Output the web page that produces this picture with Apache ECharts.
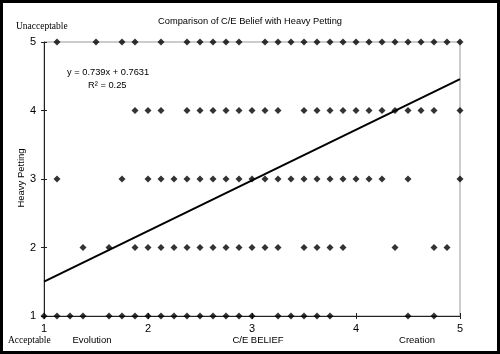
<!DOCTYPE html>
<html>
<head>
<meta charset="utf-8">
<script src="https://cdn.jsdelivr.net/npm/echarts@6/dist/echarts.min.js"></script>
<style>
html,body{margin:0;padding:0;background:#fff;}
#c{width:500px;height:354px;}
</style>
</head>
<body>
<div id="c"></div>
<script>
// C/E belief (x) values for each Heavy Petting rating (y)
const rating5X = [1.125, 1.5, 1.75, 1.875, 2.125, 2.375, 2.5, 2.625, 2.75, 2.875, 3.125, 3.25, 3.375, 3.5, 3.625, 3.75, 3.875, 4, 4.125, 4.25, 4.375, 4.5, 4.625, 4.75, 4.875, 5];
const rating4X = [1.875, 2, 2.125, 2.375, 2.5, 2.625, 2.75, 2.875, 3, 3.125, 3.25, 3.5, 3.625, 3.75, 3.875, 4, 4.125, 4.25, 4.375, 4.5, 4.625, 4.75, 5];
const rating3X = [1.125, 1.75, 2, 2.125, 2.25, 2.375, 2.5, 2.625, 2.75, 2.875, 3, 3.125, 3.25, 3.375, 3.5, 3.625, 3.75, 3.875, 4, 4.125, 4.25, 4.5, 5];
const rating2X = [1.375, 1.625, 1.875, 2, 2.125, 2.25, 2.375, 2.5, 2.625, 2.75, 2.875, 3, 3.125, 3.25, 3.5, 3.625, 3.75, 3.875, 4.375, 4.75, 4.875];
const rating1X = [1, 1.125, 1.25, 1.375, 1.625, 1.75, 1.875, 2, 2.125, 2.25, 2.375, 2.5, 2.625, 2.75, 2.875, 3, 3.25, 3.375, 3.5, 3.625, 3.75, 4.5, 4.75];
const ratingLevels = [5, 4, 3, 2, 1];
const trendSlope = 0.739;
const trendIntercept = 0.7631;
const trendX = [1, 5];
const xTicks = [1, 2, 3, 4, 5];
const yTicks = [1, 2, 3, 4, 5];
const titleText = 'Comparison of C/E Belief with Heavy Petting';
const equationText = 'y = 0.739x + 0.7631';
const r2Text = 'R² = 0.25';

const rows = [rating5X, rating4X, rating3X, rating2X, rating1X];
const points = [];
rows.forEach((xs, i) => xs.forEach(x => points.push([x, ratingLevels[i]])));
const trend = trendX.map(x => [x, trendSlope * x + trendIntercept]);

const chart = echarts.init(document.getElementById('c'), null, {renderer: 'canvas'});
const sans = 'Liberation Sans, Arial, sans-serif';
const serif = 'Liberation Serif, Times New Roman, serif';
const axisCommon = {
  min: 1, max: 5, interval: 1,
  splitLine: {show: false}
};
chart.setOption({
  animation: false,
  backgroundColor: '#fff',
  grid: {left: 44, right: 40, top: 42, bottom: 38, show: true, borderColor: '#999', borderWidth: 1},
  xAxis: [
    Object.assign({type: 'value', position: 'bottom',
      axisLine: {show: true, onZero: false, lineStyle: {color: '#222', width: 1}},
      axisTick: {show: true, length: 3, lineStyle: {color: '#222'}},
      axisLabel: {color: '#000', fontFamily: sans, fontSize: 11, margin: 7,
        formatter: v => xTicks.includes(v) ? String(v) : ''}}, axisCommon),
    Object.assign({type: 'value', position: 'bottom',
      axisLine: {show: false}, axisTick: {show: true, inside: true, length: 3, lineStyle: {color: '#222'}},
      axisLabel: {show: false}}, axisCommon)
  ],
  yAxis: [
    Object.assign({type: 'value', position: 'left',
      axisLine: {show: true, onZero: false, lineStyle: {color: '#222', width: 1}},
      axisTick: {show: true, length: 3, lineStyle: {color: '#222'}},
      axisLabel: {color: '#000', fontFamily: sans, fontSize: 11, margin: 8,
        formatter: v => yTicks.includes(v) ? String(v) : ''}}, axisCommon),
    Object.assign({type: 'value', position: 'left',
      axisLine: {show: false}, axisTick: {show: true, inside: true, length: 3, lineStyle: {color: '#222'}},
      axisLabel: {show: false}}, axisCommon)
  ],
  series: [
    {type: 'scatter', data: points, symbol: 'diamond', symbolSize: 7,
      itemStyle: {color: '#000'}, z: 3},
    {type: 'line', data: trend, showSymbol: false, symbol: 'none',
      lineStyle: {color: '#000', width: 2}, z: 4}
  ],
  graphic: [
    {type: 'rect', shape: {x: 1.5, y: 1.5, width: 497, height: 351},
      style: {fill: 'none', stroke: '#000', lineWidth: 3}, z: 10},
    {type: 'text', x: 250, y: 21, style: {text: titleText, font: '9.3px ' + sans, fill: '#000', textAlign: 'center', textVerticalAlign: 'middle'}},
    {type: 'text', x: 16, y: 26, style: {text: 'Unacceptable', font: '9.5px ' + serif, fill: '#000', textAlign: 'left', textVerticalAlign: 'middle'}},
    {type: 'text', x: 8, y: 340, style: {text: 'Acceptable', font: '9.5px ' + serif, fill: '#000', textAlign: 'left', textVerticalAlign: 'middle'}},
    {type: 'text', x: 92, y: 340, style: {text: 'Evolution', font: '9.5px ' + sans, fill: '#000', textAlign: 'center', textVerticalAlign: 'middle'}},
    {type: 'text', x: 258, y: 340, style: {text: 'C/E BELIEF', font: '9.5px ' + sans, fill: '#000', textAlign: 'center', textVerticalAlign: 'middle'}},
    {type: 'text', x: 417, y: 340, style: {text: 'Creation', font: '9.5px ' + sans, fill: '#000', textAlign: 'center', textVerticalAlign: 'middle'}},
    {type: 'text', x: 21, y: 178, rotation: Math.PI / 2, style: {text: 'Heavy Petting', font: '9.5px ' + sans, fill: '#000', textAlign: 'center', textVerticalAlign: 'middle'}},
    {type: 'text', x: 67, y: 72, style: {text: equationText, font: '9.3px ' + sans, fill: '#000', textAlign: 'left', textVerticalAlign: 'middle'}},
    {type: 'text', x: 88, y: 85, style: {text: r2Text, font: '9.3px ' + sans, fill: '#000', textAlign: 'left', textVerticalAlign: 'middle'}}
  ]
});
</script>
</body>
</html>
